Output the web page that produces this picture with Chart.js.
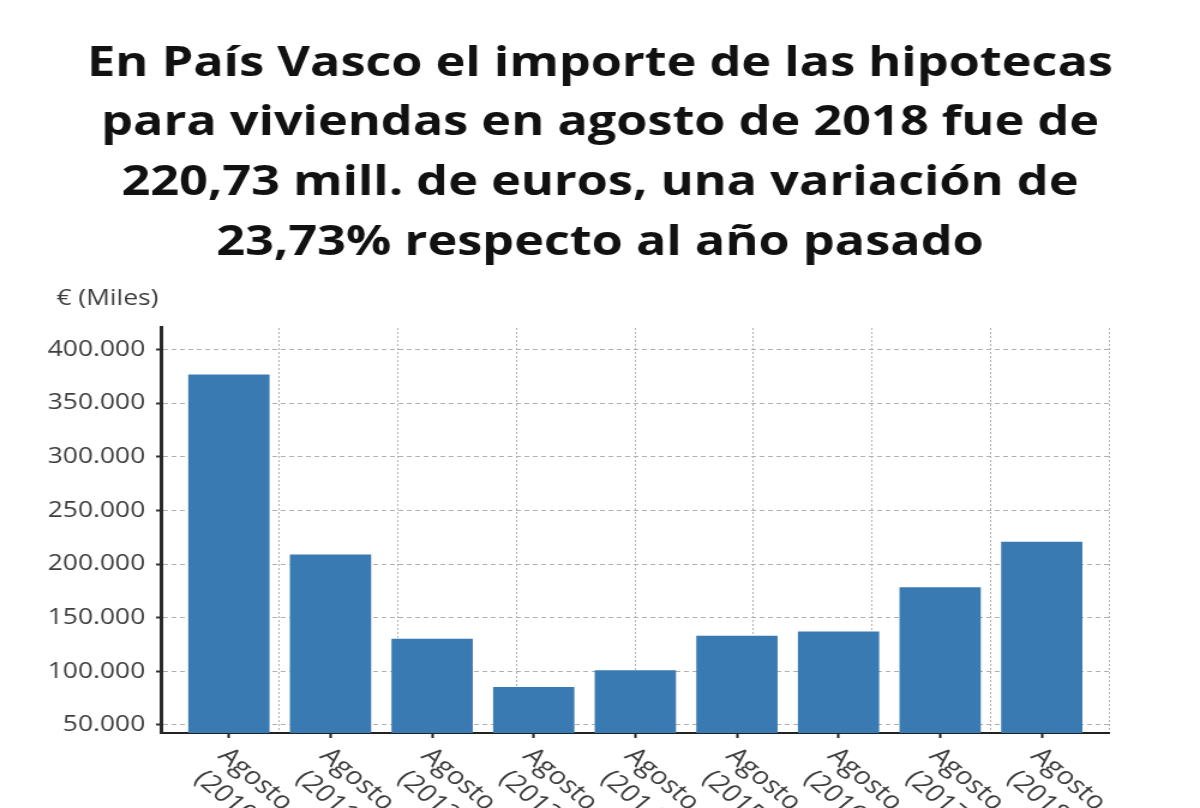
<!DOCTYPE html>
<html><head><meta charset="utf-8">
<script src="https://cdn.jsdelivr.net/npm/chart.js@4.4.1/dist/chart.umd.min.js"></script>
<style>
html,body{margin:0;padding:0;background:#fff;overflow:hidden;}
#wrap{position:relative;width:1000px;height:808px;transform:scaleX(1.2);transform-origin:0 0;}
</style></head><body>
<div id="wrap"><canvas id="c"></canvas></div>
<script>
const titleLines = [
  'En País Vasco el importe de las hipotecas',
  'para viviendas en agosto de 2018 fue de',
  '220,73 mill. de euros, una variación de',
  '23,73% respecto al año pasado'
];
const yAxisLabel = '€ (Miles)';
const categories = ['Agosto (2010)','Agosto (2011)','Agosto (2012)','Agosto (2013)','Agosto (2014)','Agosto (2015)','Agosto (2016)','Agosto (2017)','Agosto (2018)'];
const values = [376700, 209000, 130400, 85400, 100900, 133200, 137200, 178300, 220730];
const yTicks = [50000, 100000, 150000, 200000, 250000, 300000, 350000, 400000];

function fmt(v){ return String(v).replace(/\B(?=(\d{3})+(?!\d))/g, '.'); }

const labelPlugin = {
  id: 'labelPlugin',
  afterDraw(chart){
    const {ctx, chartArea} = chart;
    const x = chart.scales.x;
    ctx.save();
    ctx.font = '24px "Open Sans"';
    ctx.fillStyle = '#3d3d3d';
    categories.forEach((c, i) => {
      const px = x.getPixelForValue(i);
      const sp = c.indexOf(' ');
      const l1 = c.slice(0, sp), l2 = c.slice(sp + 1);
      const w1 = ctx.measureText(l1).width, w2 = ctx.measureText(l2).width;
      ctx.save();
      ctx.translate(px - 10, chartArea.bottom + 24);
      ctx.rotate(Math.PI / 4);
      ctx.textAlign = 'left';
      ctx.textBaseline = 'alphabetic';
      ctx.fillText(l1, 0, 0);
      ctx.fillText(l2, (w1 - w2) / 2 - 2, 30);
      ctx.restore();
    });
    ctx.textAlign = 'left';
    ctx.textBaseline = 'middle';
    ctx.font = '22px "Open Sans"';
    ctx.fillText(yAxisLabel, 47, 299);
    ctx.restore();
  }
};

new Chart(document.getElementById('c'), {
  type: 'bar',
  data: {
    datasets: [{
      data: values.map((v, i) => ({x: i, y: v})),
      backgroundColor: '#3a7ab2',
      borderWidth: 0,
      barPercentage: 0.8,
      categoryPercentage: 1
    }]
  },
  options: {
    responsive: true,
    maintainAspectRatio: false,
    animation: false,
    events: [],
    layout: {padding: {left: 0, right: 0, top: 0, bottom: 70}},
    plugins: {
      legend: {display: false},
      tooltip: {enabled: false},
      title: {
        display: true,
        text: titleLines,
        color: '#111',
        font: {family: '"Open Sans"', size: 42, weight: 'bold', lineHeight: 1.42},
        padding: {top: 34, bottom: 55}
      }
    },
    scales: {
      x: {
        type: 'linear',
        position: 'bottom',
        offset: false,
        min: -0.67,
        max: 8.66,
        afterBuildTicks: s => { s.ticks = categories.map((c, i) => ({value: i})); },
        afterFit: s => { s.height = 5; },
        ticks: {display: false},
        grid: {offset: false, drawOnChartArea: false, drawTicks: true, tickLength: 5, tickColor: '#222', tickWidth: 2},
        border: {display: true, color: '#222', width: 2}
      },
      x2: {
        type: 'linear',
        position: 'top',
        offset: false,
        min: 0,
        max: 8,
        afterBuildTicks: s => { s.ticks = [0,1,2,3,4,5,6,7,8].map(v => ({value: v})); },
        afterFit: s => { s.height = 0; },
        ticks: {display: false},
        grid: {offset: false, drawOnChartArea: true, drawTicks: false, color: '#b0b0b0', lineWidth: 1},
        border: {display: false, dash: [2, 2]}
      },
      y: {
        type: 'linear',
        position: 'left',
        min: 42500,
        max: 420500,
        afterBuildTicks: s => { s.ticks = yTicks.map(v => ({value: v})); },
        afterFit: s => { s.width = 134; },
        ticks: {
          color: '#3d3d3d',
          font: {family: '"Open Sans"', size: 22},
          padding: 9,
          callback: v => fmt(v)
        },
        grid: {color: '#b0b0b0', lineWidth: 1, tickLength: 4, tickColor: '#333', tickWidth: 2, tickBorderDash: [100, 0]},
        border: {display: true, color: '#2a2a2a', width: 3, dash: [4, 3]}
      },
      yR: {
        type: 'linear',
        position: 'right',
        min: 0,
        max: 1,
        afterFit: s => { s.width = 76; },
        ticks: {display: false},
        grid: {display: false, drawOnChartArea: false, drawTicks: false},
        border: {display: false}
      }
    }
  },
  plugins: [labelPlugin]
});
</script>
</body></html>
